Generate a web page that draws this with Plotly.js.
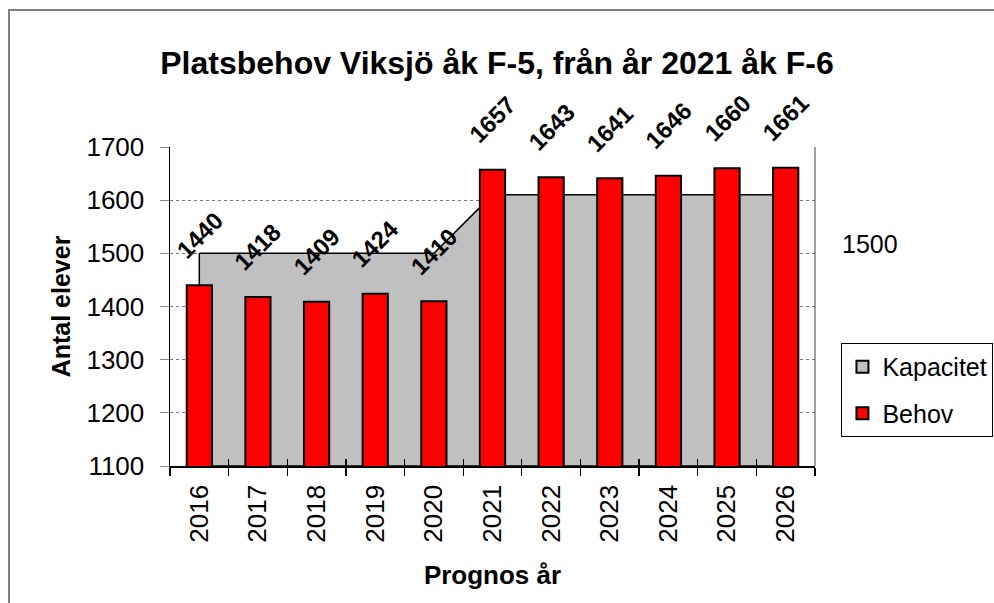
<!DOCTYPE html>
<html>
<head>
<meta charset="utf-8">
<script src="https://cdn.plot.ly/plotly-3.0.1.min.js"></script>
<style>
  html, body { margin: 0; padding: 0; background: #fff; overflow: hidden; }
  #chart { width: 994px; height: 603px; position: absolute; left: 0; top: 0; }
  #frame { position: absolute; left: 8px; top: 9px; width: 1100px; height: 800px;
           border: 2px solid #808080; pointer-events: none; box-sizing: border-box; }
</style>
</head>
<body>
<div id="chart"></div>
<div id="frame"></div>
<script>
const years = ["2016","2017","2018","2019","2020","2021","2022","2023","2024","2025","2026"];
const behov = [1440, 1418, 1409, 1424, 1410, 1657, 1643, 1641, 1646, 1660, 1661];
const kapacitet = [1500, 1500, 1500, 1500, 1500, 1610, 1610, 1610, 1610, 1610, 1610];
const yTicks = [1100, 1200, 1300, 1400, 1500, 1600, 1700];
const seriesNames = ["Kapacitet", "Behov"];
const titleText = "Platsbehov Viksjö åk F-5, från år 2021 åk F-6";
const yTitle = "Antal elever";
const xTitle = "Prognos år";
const strayLabel = "1500";

const FONT = "'Liberation Sans', Arial, sans-serif";
const yRange = [yTicks[0], yTicks[yTicks.length - 1]];
const xRange = [-0.5, years.length - 0.5];

// area polygon closed down to the axis minimum (and back up, so the left edge is stroked)
const areaX = years.concat([years[years.length - 1], years[0], years[0]]);
const areaY = kapacitet.concat([yRange[0], yRange[0], kapacitet[0]]);

const traces = [
  {
    type: "scatter", mode: "lines", name: seriesNames[0],
    x: areaX, y: areaY, xaxis: "x", yaxis: "y",
    fill: "toself", fillcolor: "#C0C0C0",
    line: { color: "#000000", width: 1.5 },
    showlegend: false, hoverinfo: "skip"
  },
  {
    type: "bar", name: seriesNames[0], x: [null], y: [null],
    xaxis: "x2", yaxis: "y2", legendgroup: "a",
    marker: { color: "#C0C0C0", line: { color: "#000000", width: 2 } }
  },
  {
    type: "bar", name: seriesNames[1], x: years, y: behov,
    xaxis: "x2", yaxis: "y2", legendgroup: "b",
    marker: { color: "#FF0000", line: { color: "#000000", width: 2 } }
  }
];

// data labels: category axis positions are serial numbers (index of the year)
const annotations = years.map((yr, i) => ({
  x: i, y: behov[i], xref: "x", yref: "y",
  text: String(behov[i]), showarrow: false, textangle: -45,
  xanchor: "center", yanchor: "middle",
  yshift: 50, font: { family: FONT, size: 24, color: "#000", weight: "bold" }
}));
annotations.push({
  x: (870 - 170) / 645, y: (466 - 244) / 319, xref: "paper", yref: "paper",
  text: strayLabel, showarrow: false, xanchor: "center", yanchor: "middle",
  font: { family: FONT, size: 25, color: "#000" }
});

const layout = {
  width: 994, height: 603,
  margin: { l: 170, r: 179, t: 147, b: 137, pad: 0, autoexpand: false },
  paper_bgcolor: "rgba(0,0,0,0)", plot_bgcolor: "#ffffff",
  font: { family: FONT, color: "#000" },
  title: {
    text: titleText, x: 0.5, xref: "container", xanchor: "center",
    y: 1 - 63 / 603, yref: "container", yanchor: "middle",
    font: { family: FONT, size: 32, color: "#000", weight: "bold" }
  },
  barmode: "overlay", bargap: 0.57,
  showlegend: true,
  legend: {
    x: 1.041, y: 0.3856, xanchor: "left", yanchor: "top",
    bordercolor: "#000", borderwidth: 1, bgcolor: "#fff",
    font: { family: FONT, size: 25, color: "#000" },
    tracegroupgap: 11, itemwidth: 30
  },
  xaxis: {
    type: "category", categoryorder: "array", categoryarray: years,
    range: xRange, fixedrange: true,
    showline: true, linecolor: "#000", linewidth: 1.5,
    ticks: "outside", tickson: "boundaries", ticklen: 8, tickcolor: "#000", tickwidth: 1.2,
    tickangle: -90, ticklabelstandoff: 7,
    tickfont: { family: FONT, size: 26, color: "#000" },
    showgrid: false, zeroline: false,
    title: { text: xTitle, standoff: 24, font: { family: FONT, size: 26, color: "#000", weight: "bold" } }
  },
  xaxis2: {
    type: "category", categoryorder: "array", categoryarray: years,
    range: xRange, overlaying: "x", side: "bottom", anchor: "y2",
    showline: false, showticklabels: false, showgrid: false, zeroline: false,
    ticks: "inside", tickson: "boundaries", ticklen: 7, tickcolor: "#000", tickwidth: 1.2
  },
  yaxis: {
    range: yRange, tickvals: yTicks, fixedrange: true,
    showline: true, linecolor: "#000", linewidth: 1.5,
    ticks: "outside", ticklen: 9, tickcolor: "#888", tickwidth: 1,
    ticklabelstandoff: 10,
    tickfont: { family: FONT, size: 26, color: "#000" },
    showgrid: true, gridcolor: "#777", gridwidth: 1, griddash: "dot",
    zeroline: false,
    title: { text: yTitle, standoff: 8, font: { family: FONT, size: 25, color: "#000", weight: "bold" } }
  },
  yaxis2: {
    range: yRange, overlaying: "y", anchor: "x2", visible: false, fixedrange: true
  },
  shapes: [
    { type: "line", xref: "paper", yref: "paper", x0: 1, x1: 1, y0: 0, y1: 1,
      line: { color: "#808080", width: 1.5 } }
  ],
  annotations: annotations
};

Plotly.newPlot("chart", traces, layout, { staticPlot: true, displayModeBar: false });
</script>
</body>
</html>
